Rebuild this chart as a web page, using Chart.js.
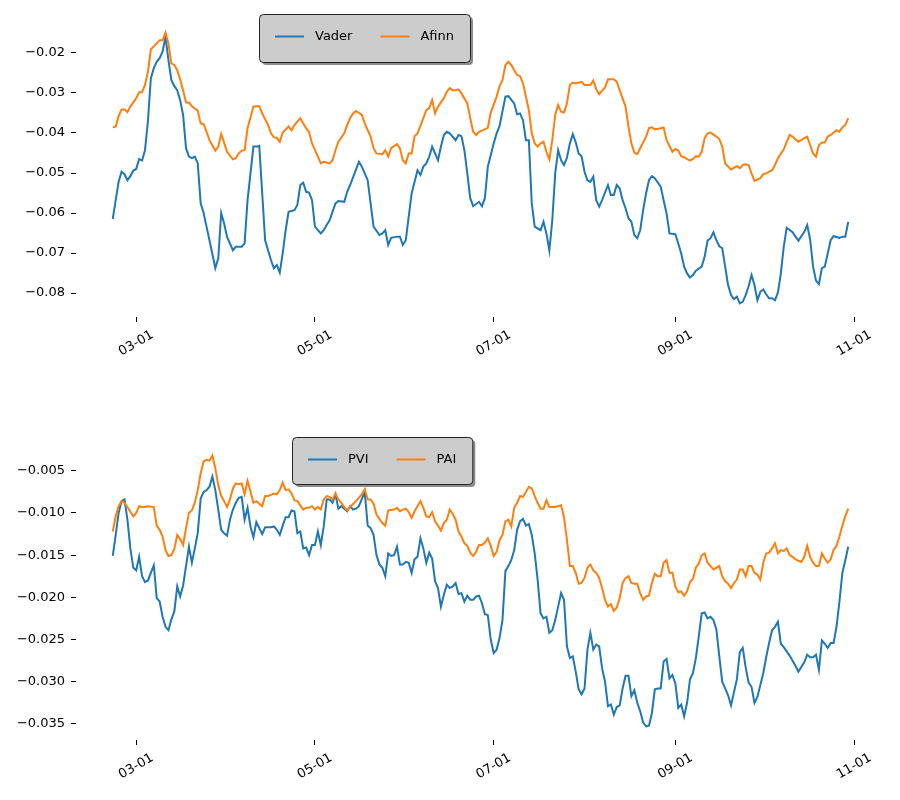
<!DOCTYPE html>
<html>
<head>
<meta charset="utf-8">
<script src="https://cdn.jsdelivr.net/npm/chart.js@4.4.1/dist/chart.umd.min.js"></script>
<style>
  body { margin: 0; background: #fff; }
  #wrap { position: relative; width: 900px; height: 800px; }
  canvas { position: absolute; left: 0; }
</style>
</head>
<body>
<div id="wrap">
  <canvas id="topChart" width="900" height="400" style="top:0px"></canvas>
  <canvas id="bottomChart" width="900" height="400" style="top:400px"></canvas>
</div>
<script>
// x values are days counted from 02-21 (day 0)
const tickDays = [8, 69, 130, 192, 253];
const tickLabels = ['03-01', '05-01', '07-01', '09-01', '11-01'];
const topTicks = [-0.08, -0.07, -0.06, -0.05, -0.04, -0.03, -0.02];
const bottomTicks = [-0.035, -0.03, -0.025, -0.02, -0.015, -0.01, -0.005];

// [day, value]
const vader = [[0,-0.0615],[1,-0.0568],[2,-0.0522],[3,-0.0497],[4,-0.0503],[5,-0.0518],[6,-0.0508],[7,-0.0494],[8,-0.049],[9,-0.0465],[10,-0.0469],[11,-0.0443],[12,-0.037],[13,-0.0263],[14,-0.0238],[15,-0.0222],[16,-0.0213],[17,-0.0197],[18,-0.016],[19,-0.0218],[20,-0.0268],[21,-0.0283],[22,-0.0293],[23,-0.0318],[24,-0.0355],[25,-0.0438],[26,-0.0459],[27,-0.0463],[28,-0.0459],[29,-0.0476],[30,-0.0576],[31,-0.060],[32,-0.0634],[33,-0.0668],[35,-0.0738],[36,-0.0713],[37,-0.060],[38,-0.0626],[39,-0.066],[41,-0.0693],[42,-0.0684],[44,-0.0684],[45,-0.0676],[46,-0.0568],[48,-0.0434],[49,-0.0434],[50,-0.0432],[51,-0.0551],[52,-0.0668],[54,-0.0718],[55,-0.0738],[56,-0.073],[57,-0.0749],[58,-0.070],[59,-0.0643],[60,-0.0597],[62,-0.0593],[63,-0.058],[64,-0.053],[65,-0.0524],[66,-0.0547],[67,-0.0549],[68,-0.0568],[69,-0.0634],[71,-0.0651],[72,-0.0643],[73,-0.063],[74,-0.0618],[76,-0.0576],[77,-0.057],[79,-0.0572],[80,-0.0547],[81,-0.053],[84,-0.0472],[85,-0.0484],[87,-0.0518],[88,-0.0576],[89,-0.0634],[91,-0.0655],[92,-0.0651],[93,-0.0643],[94,-0.068],[95,-0.0662],[97,-0.0659],[98,-0.0659],[99,-0.068],[100,-0.0668],[101,-0.0609],[102,-0.0551],[104,-0.0493],[105,-0.0505],[106,-0.0484],[107,-0.0476],[108,-0.0459],[109,-0.0434],[110,-0.0451],[111,-0.0468],[112,-0.0434],[113,-0.0405],[114,-0.0397],[115,-0.0401],[117,-0.0418],[118,-0.0405],[119,-0.0408],[120,-0.0443],[121,-0.0501],[122,-0.0563],[123,-0.0583],[125,-0.0572],[126,-0.0583],[127,-0.0563],[128,-0.0484],[130,-0.0426],[131,-0.0401],[132,-0.0383],[134,-0.0309],[135,-0.0308],[137,-0.0326],[138,-0.0353],[139,-0.0351],[140,-0.0368],[141,-0.0418],[142,-0.0418],[143,-0.0576],[144,-0.0634],[146,-0.0643],[147,-0.0622],[148,-0.0651],[149,-0.0694],[150,-0.0618],[151,-0.0501],[152,-0.0443],[153,-0.0468],[154,-0.048],[155,-0.0462],[156,-0.0426],[157,-0.0403],[158,-0.0423],[159,-0.0451],[160,-0.0458],[161,-0.0497],[162,-0.0518],[163,-0.0522],[164,-0.0509],[165,-0.0568],[166,-0.0584],[167,-0.0568],[169,-0.053],[170,-0.0555],[171,-0.0555],[172,-0.053],[173,-0.0538],[174,-0.0568],[175,-0.0588],[176,-0.0613],[177,-0.0622],[178,-0.0655],[179,-0.0663],[180,-0.0643],[181,-0.0593],[182,-0.0551],[183,-0.0518],[184,-0.0508],[185,-0.0513],[187,-0.0534],[188,-0.0568],[189,-0.0601],[190,-0.0651],[192,-0.0653],[193,-0.0676],[194,-0.0701],[195,-0.0734],[196,-0.0751],[197,-0.0761],[198,-0.0755],[199,-0.0744],[201,-0.0734],[202,-0.0709],[203,-0.0669],[204,-0.0663],[205,-0.0648],[206,-0.0668],[207,-0.0683],[208,-0.0688],[209,-0.0734],[210,-0.078],[211,-0.0805],[212,-0.0815],[213,-0.0809],[214,-0.0826],[215,-0.0822],[216,-0.0805],[217,-0.0783],[218,-0.0755],[219,-0.078],[220,-0.0818],[221,-0.0797],[222,-0.0791],[223,-0.0803],[224,-0.0813],[225,-0.0813],[226,-0.0818],[227,-0.0799],[228,-0.0751],[229,-0.0684],[230,-0.0637],[232,-0.0648],[233,-0.0659],[234,-0.0669],[236,-0.0647],[237,-0.063],[238,-0.0666],[239,-0.0734],[240,-0.0769],[241,-0.0778],[242,-0.0738],[243,-0.0734],[244,-0.0701],[245,-0.0668],[246,-0.0658],[248,-0.0662],[249,-0.0659],[250,-0.0659],[251,-0.0622]];

const afinn = [[0,-0.0386],[1,-0.0384],[2,-0.0358],[3,-0.0341],[4,-0.0341],[5,-0.0348],[6,-0.0334],[8,-0.0313],[9,-0.0298],[10,-0.0298],[11,-0.028],[12,-0.0247],[13,-0.0191],[14,-0.0184],[15,-0.0176],[16,-0.0168],[17,-0.0168],[18,-0.0149],[19,-0.0176],[20,-0.0226],[21,-0.023],[22,-0.0243],[23,-0.0266],[24,-0.0293],[25,-0.0324],[26,-0.0324],[27,-0.0333],[29,-0.0344],[30,-0.0376],[31,-0.0378],[32,-0.0397],[33,-0.0418],[35,-0.0444],[36,-0.0434],[37,-0.0403],[38,-0.0424],[39,-0.0447],[41,-0.0466],[42,-0.0463],[43,-0.0451],[44,-0.0444],[45,-0.0443],[46,-0.0388],[48,-0.0334],[49,-0.0333],[50,-0.0333],[51,-0.0351],[53,-0.038],[54,-0.0401],[55,-0.0411],[56,-0.0412],[57,-0.0422],[58,-0.0399],[60,-0.0384],[61,-0.0393],[62,-0.038],[64,-0.0363],[65,-0.0376],[66,-0.0388],[67,-0.0398],[68,-0.0426],[70,-0.0459],[71,-0.0476],[72,-0.0472],[74,-0.0476],[75,-0.0468],[76,-0.0443],[77,-0.0422],[79,-0.0401],[80,-0.038],[81,-0.0363],[82,-0.0351],[83,-0.0345],[85,-0.0355],[86,-0.0376],[88,-0.0409],[89,-0.0438],[90,-0.0451],[92,-0.0453],[93,-0.0443],[94,-0.0459],[95,-0.0438],[97,-0.0428],[98,-0.0438],[99,-0.0468],[100,-0.0476],[101,-0.0451],[102,-0.0451],[103,-0.0408],[104,-0.0401],[106,-0.0363],[107,-0.0343],[108,-0.0338],[109,-0.0318],[110,-0.0351],[111,-0.0334],[113,-0.0313],[114,-0.0297],[115,-0.0288],[116,-0.0293],[117,-0.0293],[118,-0.0291],[119,-0.0301],[121,-0.0326],[122,-0.0363],[123,-0.0397],[124,-0.0405],[125,-0.0397],[126,-0.0394],[128,-0.0387],[129,-0.0349],[131,-0.0309],[132,-0.0283],[133,-0.0268],[134,-0.023],[135,-0.0222],[136,-0.023],[137,-0.0243],[138,-0.0255],[139,-0.0258],[140,-0.0276],[141,-0.0309],[142,-0.0343],[143,-0.0401],[144,-0.0426],[145,-0.0434],[146,-0.0426],[147,-0.0422],[148,-0.0447],[149,-0.0466],[150,-0.0418],[151,-0.0355],[152,-0.033],[153,-0.0347],[154,-0.0349],[155,-0.0326],[156,-0.028],[157,-0.0274],[158,-0.0276],[160,-0.0272],[161,-0.028],[163,-0.028],[164,-0.0269],[165,-0.0291],[166,-0.0303],[167,-0.0294],[168,-0.0286],[169,-0.0266],[171,-0.0266],[172,-0.0272],[173,-0.0293],[175,-0.0334],[176,-0.0384],[177,-0.0426],[178,-0.0449],[179,-0.0453],[180,-0.0438],[182,-0.0409],[183,-0.0388],[184,-0.0386],[185,-0.0391],[187,-0.0388],[188,-0.0386],[189,-0.0418],[191,-0.0447],[192,-0.044],[193,-0.0444],[194,-0.0458],[195,-0.0461],[197,-0.0469],[198,-0.0465],[199,-0.0458],[200,-0.0459],[201,-0.0447],[202,-0.0413],[203,-0.0401],[204,-0.0399],[206,-0.0409],[207,-0.0415],[208,-0.0434],[209,-0.0476],[211,-0.0491],[213,-0.0483],[214,-0.0488],[215,-0.048],[216,-0.0478],[217,-0.048],[218,-0.0501],[219,-0.052],[221,-0.0513],[222,-0.0503],[223,-0.0501],[225,-0.0493],[226,-0.048],[227,-0.0463],[229,-0.0441],[230,-0.0422],[231,-0.0405],[232,-0.0409],[233,-0.0416],[234,-0.0422],[236,-0.0413],[237,-0.0409],[238,-0.043],[239,-0.0451],[240,-0.0459],[241,-0.043],[242,-0.0424],[243,-0.0424],[244,-0.0409],[245,-0.0405],[247,-0.0393],[248,-0.0397],[249,-0.0386],[250,-0.038],[251,-0.0363]];

const pvi = [[0,-0.0151],[1,-0.0126],[2,-0.0100],[3,-0.0086],[4,-0.0084],[5,-0.0108],[6,-0.0142],[7,-0.0165],[8,-0.0168],[9,-0.0152],[10,-0.0175],[11,-0.0182],[12,-0.018],[13,-0.0171],[14,-0.0162],[15,-0.0201],[16,-0.0205],[17,-0.0223],[18,-0.0235],[19,-0.0239],[20,-0.0226],[21,-0.0217],[22,-0.0187],[23,-0.0199],[24,-0.0186],[25,-0.0163],[26,-0.014],[27,-0.0159],[28,-0.0142],[29,-0.0124],[30,-0.0083],[31,-0.0075],[32,-0.0073],[33,-0.0069],[34,-0.0057],[35,-0.0073],[36,-0.0096],[37,-0.012],[38,-0.0124],[39,-0.0127],[40,-0.0108],[41,-0.0096],[42,-0.0088],[43,-0.0082],[44,-0.0081],[45,-0.0108],[46,-0.0094],[47,-0.0116],[48,-0.0129],[49,-0.0111],[50,-0.0118],[51,-0.0125],[52,-0.0117],[54,-0.0117],[55,-0.0116],[56,-0.012],[57,-0.0126],[58,-0.0115],[59,-0.0105],[60,-0.0105],[61,-0.0097],[62,-0.0098],[63,-0.0124],[64,-0.0122],[65,-0.0142],[66,-0.0141],[67,-0.015],[68,-0.0138],[69,-0.0138],[70,-0.0122],[71,-0.0138],[72,-0.0116],[73,-0.0084],[74,-0.0084],[75,-0.0088],[76,-0.0078],[77,-0.0095],[78,-0.0092],[79,-0.0095],[80,-0.0098],[81,-0.0092],[82,-0.0096],[83,-0.0095],[84,-0.0092],[86,-0.0075],[87,-0.0115],[88,-0.0118],[89,-0.0126],[90,-0.015],[91,-0.0161],[92,-0.0165],[93,-0.0175],[94,-0.0148],[95,-0.0151],[96,-0.015],[97,-0.014],[98,-0.0161],[99,-0.0161],[100,-0.0158],[101,-0.0159],[102,-0.0171],[103,-0.0155],[104,-0.0152],[105,-0.013],[106,-0.0142],[107,-0.0159],[108,-0.0147],[109,-0.0154],[110,-0.0181],[111,-0.0189],[112,-0.0211],[113,-0.0197],[114,-0.0185],[115,-0.0189],[116,-0.0187],[117,-0.0183],[118,-0.0196],[119,-0.0195],[120,-0.0205],[121,-0.0198],[122,-0.0203],[123,-0.0203],[124,-0.0199],[125,-0.0198],[126,-0.0207],[127,-0.022],[128,-0.0221],[129,-0.025],[130,-0.0266],[131,-0.0262],[132,-0.0248],[133,-0.0227],[134,-0.0169],[135,-0.0163],[136,-0.0156],[137,-0.0144],[138,-0.012],[139,-0.011],[140,-0.0107],[141,-0.0115],[142,-0.0113],[143,-0.0126],[144,-0.0148],[145,-0.0179],[146,-0.0219],[147,-0.0225],[148,-0.0223],[149,-0.0242],[150,-0.0239],[151,-0.0227],[152,-0.0211],[153,-0.0195],[154,-0.0203],[155,-0.0258],[156,-0.0272],[157,-0.027],[158,-0.0288],[159,-0.0309],[160,-0.0315],[161,-0.0308],[162,-0.0262],[163,-0.0242],[164,-0.0262],[165,-0.0256],[166,-0.0258],[167,-0.0284],[168,-0.03],[169,-0.0329],[170,-0.0327],[171,-0.0339],[172,-0.033],[173,-0.0328],[174,-0.0308],[175,-0.0293],[176,-0.0293],[177,-0.0317],[178,-0.031],[179,-0.0325],[180,-0.0335],[181,-0.0348],[182,-0.0353],[183,-0.0352],[184,-0.0337],[185,-0.0309],[186,-0.0308],[187,-0.0308],[188,-0.0276],[189,-0.0273],[190,-0.0296],[191,-0.0292],[192,-0.0302],[193,-0.0331],[194,-0.0327],[195,-0.0341],[196,-0.0325],[197,-0.0297],[198,-0.029],[199,-0.0272],[200,-0.0246],[201,-0.0219],[202,-0.0218],[203,-0.0225],[204,-0.0223],[205,-0.0227],[206,-0.0238],[207,-0.027],[208,-0.03],[209,-0.0308],[210,-0.0316],[211,-0.0328],[213,-0.0297],[214,-0.0265],[215,-0.026],[216,-0.0283],[217,-0.0301],[218,-0.0306],[219,-0.0325],[220,-0.0318],[222,-0.029],[223,-0.0271],[224,-0.0254],[225,-0.0239],[226,-0.0235],[227,-0.0229],[228,-0.0255],[229,-0.0259],[231,-0.0269],[232,-0.0275],[233,-0.0281],[234,-0.0288],[236,-0.0277],[237,-0.0268],[238,-0.0271],[239,-0.0271],[240,-0.0268],[241,-0.0286],[242,-0.0251],[243,-0.0255],[244,-0.026],[245,-0.0254],[246,-0.0254],[247,-0.0235],[248,-0.0205],[249,-0.0171],[250,-0.0156],[251,-0.014]];

const pai = [[0,-0.0122],[1,-0.0104],[2,-0.0092],[3,-0.0086],[4,-0.0088],[5,-0.0093],[7,-0.0104],[8,-0.01],[9,-0.0092],[10,-0.0093],[11,-0.0093],[12,-0.0092],[14,-0.0093],[15,-0.0115],[16,-0.012],[17,-0.0128],[18,-0.0144],[19,-0.0151],[20,-0.015],[21,-0.0143],[22,-0.0126],[23,-0.0131],[24,-0.0138],[25,-0.0118],[26,-0.01],[27,-0.0097],[28,-0.0088],[29,-0.0073],[30,-0.0053],[31,-0.0039],[32,-0.0037],[33,-0.0038],[34,-0.0032],[35,-0.0047],[36,-0.0067],[37,-0.008],[38,-0.0086],[39,-0.0093],[40,-0.0084],[41,-0.0071],[42,-0.0065],[43,-0.0066],[44,-0.0065],[45,-0.0078],[46,-0.0062],[47,-0.0075],[48,-0.0088],[49,-0.0086],[50,-0.0089],[51,-0.0092],[52,-0.008],[53,-0.008],[55,-0.0077],[56,-0.0078],[57,-0.0073],[58,-0.0064],[59,-0.0073],[60,-0.0072],[61,-0.0077],[62,-0.0085],[63,-0.0086],[65,-0.0096],[66,-0.0094],[67,-0.0094],[68,-0.0092],[69,-0.0096],[70,-0.0093],[71,-0.0096],[72,-0.0084],[73,-0.008],[74,-0.0081],[75,-0.0084],[76,-0.0077],[77,-0.0084],[78,-0.0088],[79,-0.0093],[80,-0.0097],[81,-0.0093],[83,-0.0086],[84,-0.0082],[85,-0.0078],[86,-0.0072],[87,-0.0084],[88,-0.0084],[89,-0.0089],[90,-0.0102],[91,-0.0107],[92,-0.0112],[93,-0.0115],[94,-0.0097],[96,-0.0096],[97,-0.0094],[98,-0.0098],[99,-0.0096],[100,-0.0095],[101,-0.0099],[102,-0.0106],[103,-0.0098],[104,-0.0092],[105,-0.0086],[106,-0.0094],[107,-0.0104],[108,-0.0105],[109,-0.0099],[110,-0.011],[111,-0.0115],[112,-0.0121],[113,-0.0112],[114,-0.0108],[115,-0.0096],[116,-0.0101],[117,-0.0108],[118,-0.0122],[119,-0.0128],[120,-0.0136],[121,-0.0139],[122,-0.0147],[123,-0.0151],[124,-0.0146],[125,-0.0138],[126,-0.0138],[127,-0.0135],[128,-0.013],[129,-0.0139],[130,-0.0151],[131,-0.0146],[132,-0.0132],[133,-0.0126],[134,-0.011],[135,-0.0108],[136,-0.0116],[137,-0.0094],[138,-0.0088],[139,-0.008],[140,-0.0081],[142,-0.0069],[143,-0.0071],[144,-0.008],[145,-0.0088],[146,-0.0095],[147,-0.0095],[148,-0.0085],[149,-0.0093],[150,-0.0093],[151,-0.0093],[153,-0.0091],[154,-0.0105],[155,-0.0132],[156,-0.0163],[157,-0.0163],[158,-0.0171],[159,-0.0184],[160,-0.0183],[161,-0.0177],[162,-0.0165],[163,-0.0161],[164,-0.0168],[165,-0.0171],[166,-0.0177],[167,-0.0189],[168,-0.0203],[169,-0.0211],[170,-0.0208],[171,-0.0216],[172,-0.0212],[173,-0.0201],[174,-0.0183],[175,-0.0177],[176,-0.0175],[177,-0.0183],[178,-0.0184],[179,-0.0184],[180,-0.0195],[181,-0.0203],[182,-0.0199],[183,-0.0198],[184,-0.0183],[185,-0.0172],[186,-0.0175],[187,-0.0175],[188,-0.0159],[189,-0.0156],[190,-0.0171],[191,-0.0171],[192,-0.0187],[193,-0.0194],[194,-0.0193],[195,-0.0198],[196,-0.0193],[197,-0.0182],[198,-0.0178],[199,-0.0165],[200,-0.016],[201,-0.015],[202,-0.0148],[203,-0.0159],[204,-0.0163],[205,-0.0167],[207,-0.0163],[208,-0.0175],[209,-0.0181],[210,-0.0184],[211,-0.0189],[212,-0.0183],[213,-0.0179],[214,-0.0167],[215,-0.0167],[216,-0.0175],[217,-0.0163],[218,-0.0163],[219,-0.0171],[220,-0.0173],[221,-0.0179],[222,-0.0159],[223,-0.0148],[224,-0.0147],[225,-0.0142],[226,-0.0136],[227,-0.0148],[228,-0.0144],[229,-0.0145],[230,-0.0142],[231,-0.015],[232,-0.0152],[233,-0.0155],[235,-0.0158],[236,-0.0152],[237,-0.0139],[238,-0.0152],[239,-0.0159],[240,-0.0163],[241,-0.0163],[242,-0.0148],[243,-0.0154],[244,-0.0159],[245,-0.0155],[246,-0.0144],[247,-0.0139],[248,-0.0128],[249,-0.0115],[250,-0.0104],[251,-0.0095]];

const BLUE = '#1f77b4';
const ORANGE = '#ff7f0e';
const FONT = '13px "DejaVu Sans"';

// same 5% autoscale margin as matplotlib
function paddedRange(values) {
    const lo = Math.min(...values), hi = Math.max(...values), pad = (hi - lo) * 0.05;
    return [lo - pad, hi + pad];
}

function fmt(v, dec) {
    return (v < 0 ? '\u2212' : '') + Math.abs(v).toFixed(dec);
}

// rotated date labels and the boxed legend
const panelDecor = {
    id: 'panelDecor',
    afterDraw(chart, args, opts) {
        const ctx = chart.ctx;
        const xs = chart.scales.x;
        ctx.save();
        ctx.font = FONT;
        ctx.fillStyle = '#000';
        ctx.textAlign = 'center';
        ctx.textBaseline = 'middle';
        xs.ticks.forEach((t, i) => {
            ctx.save();
            ctx.translate(xs.getPixelForValue(t.value), chart.chartArea.bottom + 26.5);
            ctx.rotate(-30 * Math.PI / 180);
            ctx.fillText(tickLabels[i], 0, 0);
            ctx.restore();
        });

        const items = chart.data.datasets;
        let w = 16;
        items.forEach((d, i) => {
            w += 40 + ctx.measureText(d.label).width + (i < items.length - 1 ? 28 : 16);
        });
        const L = opts.left, T = opts.top, H = opts.height;
        ctx.fillStyle = 'rgba(0,0,0,0.45)';
        ctx.beginPath();
        ctx.roundRect(L + 3, T + 3, w, H, 4);
        ctx.fill();
        ctx.fillStyle = '#cccccc';
        ctx.strokeStyle = '#222';
        ctx.lineWidth = 1;
        ctx.beginPath();
        ctx.roundRect(L + 0.5, T + 0.5, w, H, 4);
        ctx.fill();
        ctx.stroke();

        let x = L + 16;
        const cy = T + 22.5;
        ctx.textAlign = 'left';
        items.forEach(d => {
            ctx.strokeStyle = d.borderColor;
            ctx.lineWidth = 2;
            ctx.beginPath();
            ctx.moveTo(x, cy);
            ctx.lineTo(x + 29, cy);
            ctx.stroke();
            x += 40;
            ctx.fillStyle = '#000';
            ctx.fillText(d.label, x, cy + 0.5);
            x += ctx.measureText(d.label).width + 28;
        });
        ctx.restore();
    }
};

function makePanel(id, series, yTicks, decimals, area, legendBox) {
    const [yMin, yMax] = paddedRange(series.flatMap(s => s.points.map(p => p[1])));
    const [xMin, xMax] = paddedRange(series.flatMap(s => s.points.map(p => p[0])));
    return new Chart(document.getElementById(id), {
        type: 'line',
        data: {
            datasets: series.map((s, i) => ({
                label: s.name,
                data: s.points.map(p => ({ x: p[0], y: p[1] })),
                borderColor: s.color,
                borderWidth: 2,
                pointRadius: 0,
                tension: 0,
                fill: false,
                order: series.length - i
            }))
        },
        options: {
            responsive: false,
            animation: false,
            devicePixelRatio: 1,
            layout: { padding: { top: area.top, right: 900 - area.right, left: 0, bottom: 0 } },
            plugins: {
                legend: { display: false },
                tooltip: { enabled: false },
                panelDecor: legendBox
            },
            scales: {
                x: {
                    type: 'linear',
                    min: xMin,
                    max: xMax,
                    afterBuildTicks: s => { s.ticks = tickDays.map(v => ({ value: v })); },
                    afterFit: s => { s.height = 400 - area.bottom; },
                    ticks: { display: false },
                    grid: { drawOnChartArea: false, drawTicks: true, tickLength: 5, color: '#000' },
                    border: { display: false }
                },
                y: {
                    type: 'linear',
                    min: yMin,
                    max: yMax,
                    afterBuildTicks: s => { s.ticks = yTicks.map(v => ({ value: v })); },
                    afterFit: s => { s.width = area.left; },
                    ticks: {
                        color: '#000',
                        padding: 6,
                        font: { family: 'DejaVu Sans', size: 13 },
                        callback: v => fmt(v, decimals)
                    },
                    grid: { drawOnChartArea: false, drawTicks: true, tickLength: 5, color: '#000' },
                    border: { display: false }
                }
            }
        },
        plugins: [panelDecor]
    });
}

makePanel('topChart',
    [{ name: 'Vader', points: vader, color: BLUE }, { name: 'Afinn', points: afinn, color: ORANGE }],
    topTicks, 2,
    { left: 76, right: 885, top: 19, bottom: 317 },
    { left: 259, top: 14, height: 48 });

makePanel('bottomChart',
    [{ name: 'PVI', points: pvi, color: BLUE }, { name: 'PAI', points: pai, color: ORANGE }],
    bottomTicks, 3,
    { left: 76, right: 885, top: 42, bottom: 340 },
    { left: 292, top: 37, height: 47 });
</script>
</body>
</html>
